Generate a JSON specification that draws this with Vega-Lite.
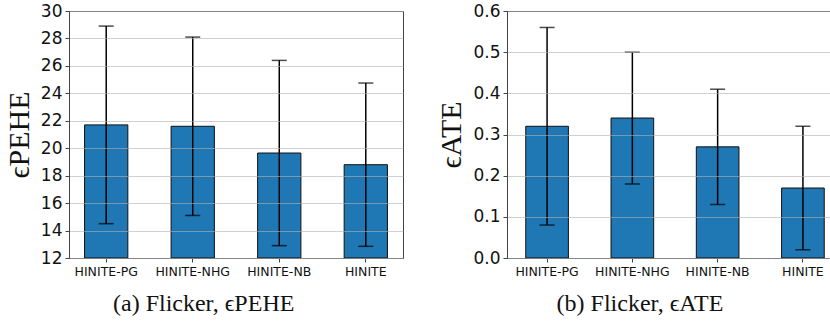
{
  "$schema": "https://vega.github.io/schema/vega-lite/v6.json",
  "padding": {"left": 3, "top": 1, "right": 0, "bottom": 0},
  "background": "white",
  "datasets": {
    "pehe": [
      {"model": "HINITE-PG", "mean": 21.7, "lo": 14.5, "hi": 28.9},
      {"model": "HINITE-NHG", "mean": 21.6, "lo": 15.1, "hi": 28.1},
      {"model": "HINITE-NB", "mean": 19.65, "lo": 12.9, "hi": 26.4},
      {"model": "HINITE", "mean": 18.8, "lo": 12.85, "hi": 24.75}
    ],
    "ate": [
      {"model": "HINITE-PG", "mean": 0.32, "lo": 0.08, "hi": 0.56},
      {"model": "HINITE-NHG", "mean": 0.34, "lo": 0.18, "hi": 0.50},
      {"model": "HINITE-NB", "mean": 0.27, "lo": 0.13, "hi": 0.41},
      {"model": "HINITE", "mean": 0.17, "lo": 0.02, "hi": 0.32}
    ]
  },
  "spacing": 32,
  "hconcat": [
    {
      "width": 334,
      "height": 247,
      "data": {"name": "pehe"},
      "title": {"text": "(a) Flicker, ϵPEHE", "orient": "bottom", "anchor": "middle", "frame": "bounds", "font": "Liberation Serif", "fontSize": 24, "fontWeight": "normal", "color": "#111", "offset": 14},
      "encoding": {
        "x": {"field": "model", "type": "nominal", "sort": null,
              "scale": {"paddingInner": 0.5, "paddingOuter": 0.18},
              "axis": {"title": null, "labelAngle": 0}}
      },
      "layer": [
        {"mark": {"type": "bar", "fill": "#1f77b4", "stroke": "#111", "strokeWidth": 1},
         "encoding": {
           "y": {"field": "mean", "type": "quantitative",
                 "scale": {"domain": [12, 30], "zero": false, "nice": false},
                 "axis": {"title": "ϵPEHE", "values": [12,14,16,18,20,22,24,26,28,30], "zindex": 1, "labelOverlap": false, "labelFlush": false, "labelBound": false}},
           "y2": {"datum": 12}
         }},
        {"mark": {"type": "rule", "color": "black", "strokeWidth": 1.5},
         "encoding": {"y": {"field": "lo", "type": "quantitative",
                 "axis": {"title": "ϵPEHE", "values": [12,14,16,18,20,22,24,26,28,30], "zindex": 1, "labelOverlap": false, "labelFlush": false, "labelBound": false}}, "y2": {"field": "hi"}}},
        {"mark": {"type": "tick", "color": "black", "thickness": 1.5, "size": 15},
         "encoding": {"y": {"field": "lo", "type": "quantitative",
                 "axis": {"title": "ϵPEHE", "values": [12,14,16,18,20,22,24,26,28,30], "zindex": 1, "labelOverlap": false, "labelFlush": false, "labelBound": false}}}},
        {"mark": {"type": "tick", "color": "black", "thickness": 1.5, "size": 15},
         "encoding": {"y": {"field": "hi", "type": "quantitative",
                 "axis": {"title": "ϵPEHE", "values": [12,14,16,18,20,22,24,26,28,30], "zindex": 1, "labelOverlap": false, "labelFlush": false, "labelBound": false}}}}
      ]
    },
    {
      "width": 336,
      "height": 247,
      "data": {"name": "ate"},
      "title": {"text": "(b) Flicker, ϵATE", "orient": "bottom", "anchor": "middle", "frame": "bounds", "font": "Liberation Serif", "fontSize": 24, "fontWeight": "normal", "color": "#111", "offset": 14},
      "encoding": {
        "x": {"field": "model", "type": "nominal", "sort": null,
              "scale": {"paddingInner": 0.5, "paddingOuter": 0.22},
              "axis": {"title": null, "labelAngle": 0}}
      },
      "layer": [
        {"mark": {"type": "bar", "fill": "#1f77b4", "stroke": "#111", "strokeWidth": 1},
         "encoding": {
           "y": {"field": "mean", "type": "quantitative",
                 "scale": {"domain": [0, 0.6], "nice": false},
                 "axis": {"title": "ϵATE", "values": [0,0.1,0.2,0.3,0.4,0.5,0.6], "format": ".1f", "zindex": 1, "labelOverlap": false, "labelFlush": false, "labelBound": false}}
         }},
        {"mark": {"type": "rule", "color": "black", "strokeWidth": 1.5},
         "encoding": {"y": {"field": "lo", "type": "quantitative",
                 "axis": {"title": "ϵATE", "values": [0,0.1,0.2,0.3,0.4,0.5,0.6], "format": ".1f", "zindex": 1, "labelOverlap": false, "labelFlush": false, "labelBound": false}}, "y2": {"field": "hi"}}},
        {"mark": {"type": "tick", "color": "black", "thickness": 1.5, "size": 15},
         "encoding": {"y": {"field": "lo", "type": "quantitative",
                 "axis": {"title": "ϵATE", "values": [0,0.1,0.2,0.3,0.4,0.5,0.6], "format": ".1f", "zindex": 1, "labelOverlap": false, "labelFlush": false, "labelBound": false}}}},
        {"mark": {"type": "tick", "color": "black", "thickness": 1.5, "size": 15},
         "encoding": {"y": {"field": "hi", "type": "quantitative",
                 "axis": {"title": "ϵATE", "values": [0,0.1,0.2,0.3,0.4,0.5,0.6], "format": ".1f", "zindex": 1, "labelOverlap": false, "labelFlush": false, "labelBound": false}}}}
      ]
    }
  ],
  "config": {
    "view": {"stroke": "#444", "strokeWidth": 1},
    "axis": {
      "domainColor": "#444", "tickColor": "#444", "tickSize": 4,
      "labelFont": "DejaVu Sans", "labelColor": "#111",
      "titleFont": "Liberation Serif", "titleFontWeight": "normal", "titleColor": "#111",
      "gridColor": "#b0b0b0", "gridOpacity": 0.6
    },
    "axisX": {"labelFontSize": 12.5, "labelPadding": 3, "grid": false},
    "axisY": {"labelFontSize": 17, "labelPadding": 3, "titleFontSize": 30, "titlePadding": 6, "grid": true}
  }
}
